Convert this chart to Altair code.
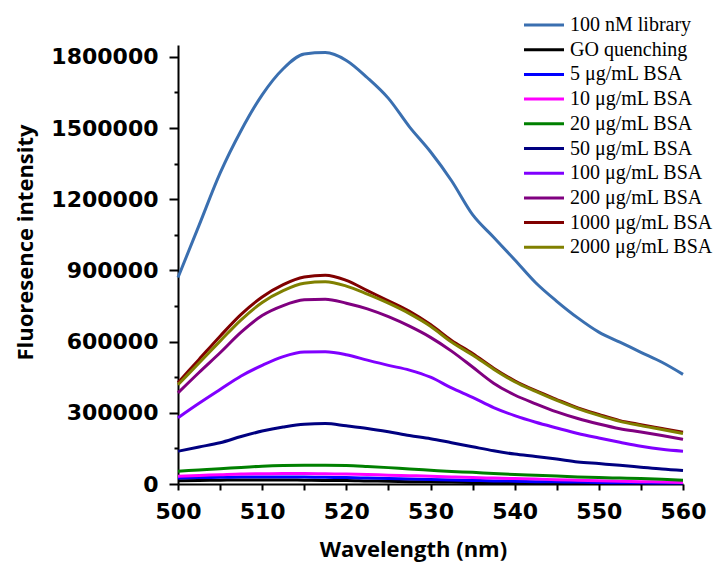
import altair as alt
import pandas as pd

# Wavelength grid (nm)
wavelength = [500, 502.5, 505, 507.5, 510, 512.5, 515, 517.5, 520, 522.5, 525, 527.5,
              530, 532.5, 535, 537.5, 540, 542.5, 545, 547.5, 550, 552.5, 555, 557.5, 560]

labels = ["100 nM library", "GO quenching", "5 μg/mL BSA", "10 μg/mL BSA", "20 μg/mL BSA",
          "50 μg/mL BSA", "100 μg/mL BSA", "200 μg/mL BSA", "1000 μg/mL BSA", "2000 μg/mL BSA"]
colors = ["#3a6fb0", "#000000", "#0000ff", "#ff00ff", "#008000",
          "#000080", "#8000ff", "#800080", "#800000", "#808000"]

library_100nM = [870000, 1090000, 1310000, 1490000, 1640000, 1750000, 1812000, 1818000, 1785000,
                 1712000, 1625000, 1505000, 1400000, 1278000, 1135000, 1040000, 945000, 848000,
                 770000, 700000, 640000, 598000, 555000, 513000, 462000]
go_quenching = [14000, 15000, 16000, 17000, 17000, 17000, 16000, 15000, 15000, 13000, 12000, 10000,
                9000, 8000, 6000, 5000, 4000, 3000, 3000, 2000, 2000, 2000, 2000, 2000, 2000]
bsa_5 = [25000, 27000, 28000, 29000, 30000, 30000, 29000, 28000, 27000, 25000, 23000, 21000,
         19000, 17000, 15000, 13000, 12000, 10000, 9000, 8000, 6000, 5000, 5000, 4000, 4000]
bsa_10 = [33000, 36000, 39000, 42000, 43000, 44000, 44000, 43000, 42000, 40000, 37000, 35000,
          33000, 30000, 27000, 25000, 23000, 21000, 18000, 16000, 14000, 12000, 10000, 8000, 6000]
bsa_20 = [54000, 59000, 64000, 70000, 75000, 78000, 79000, 79000, 78000, 74000, 69000, 63000,
          58000, 53000, 49000, 44000, 40000, 37000, 34000, 30000, 27000, 25000, 23000, 20000, 16000]
bsa_50 = [138000, 156000, 174000, 200000, 223000, 240000, 252000, 255000, 245000, 234000, 220000,
          204000, 191000, 174000, 157000, 140000, 126000, 116000, 105000, 93000, 86000, 79000,
          71000, 63000, 57000]
bsa_100 = [279000, 340000, 398000, 455000, 500000, 537000, 556000, 557000, 545000, 522000, 500000,
           480000, 450000, 405000, 365000, 322000, 288000, 260000, 236000, 213000, 194000, 176000,
           159000, 146000, 138000]
bsa_200 = [384000, 470000, 553000, 640000, 710000, 752000, 776000, 779000, 762000, 738000, 705000,
           665000, 618000, 560000, 493000, 425000, 375000, 338000, 304000, 276000, 253000, 233000,
           219000, 204000, 188000]
bsa_1000 = [427000, 525000, 623000, 715000, 788000, 840000, 872000, 880000, 858000, 815000, 772000,
            728000, 672000, 605000, 550000, 488000, 435000, 393000, 356000, 321000, 293000, 267000,
            250000, 234000, 218000]
bsa_2000 = [418000, 510000, 602000, 692000, 765000, 815000, 846000, 852000, 834000, 800000, 762000,
            718000, 665000, 598000, 544000, 484000, 431000, 390000, 352000, 318000, 289000, 264000,
            246000, 230000, 213000]

series = [library_100nM, go_quenching, bsa_5, bsa_10, bsa_20,
          bsa_50, bsa_100, bsa_200, bsa_1000, bsa_2000]

x_ticks = list(range(500, 561, 5))
y_ticks = list(range(0, 1800001, 150000))

rows = []
for lab, vals in zip(labels, series):
    for w, v in zip(wavelength, vals):
        rows.append({"Wavelength": w, "Intensity": v, "Sample": lab})
df = pd.DataFrame(rows)

x_axis = alt.Axis(
    values=x_ticks,
    labelExpr="datum.value % 10 == 0 ? datum.label : ''",
    grid=False,
    domainColor="black", domainWidth=2,
    tickColor="black", tickWidth=2, tickSize=6,
    labelFont="DejaVu Sans", labelFontWeight="bold", labelFontSize=22, labelColor="black",
    labelPadding=11, labelFlush=False, labelOverlap=False,
    title="Wavelength (nm)", titleFont="Open Sans", titleFontWeight="bold", titleFontSize=22,
    titleColor="black", titleX=235, titleY=72, titleAlign="center", titleBaseline="alphabetic",
)

y_axis = alt.Axis(
    values=y_ticks,
    format="d",
    labelExpr="datum.value % 300000 == 0 ? datum.label : ''",
    grid=False,
    domainColor="black", domainWidth=2,
    tickColor="black", tickWidth=2,
    tickSize={"condition": {"test": "datum.value % 300000 == 0", "value": 9}, "value": 4},
    labelFont="DejaVu Sans", labelFontWeight="bold", labelFontSize=22, labelColor="black",
    labelPadding=11, labelFlush=False, labelOverlap=False,
    title="Fluoresence intensity", titleFont="Open Sans", titleFontWeight="bold", titleFontSize=22,
    titleColor="black", titleAngle=270, titleX=-153, titleY=197, titleAlign="center",
    titleBaseline="middle",
)

legend = alt.Legend(
    title=None, orient="none", legendX=356, legendY=-30,
    symbolType="M-4,0L4,0", symbolSize=100, symbolStrokeWidth=3,
    labelFont="Liberation Serif", labelFontSize=20, labelColor="black",
    labelOffset=16, rowPadding=4.7, labelLimit=0,
)

chart = alt.Chart(df).mark_line(strokeWidth=3, interpolate="monotone").encode(
    x=alt.X("Wavelength:Q", scale=alt.Scale(domain=[500, 560], nice=False, zero=False), axis=x_axis),
    y=alt.Y("Intensity:Q", scale=alt.Scale(domain=[0, 1850000], nice=False), axis=y_axis),
    color=alt.Color("Sample:N", scale=alt.Scale(domain=labels, range=colors), sort=labels, legend=legend),
).properties(
    width=505, height=439,
    autosize=alt.AutoSizeParams(type="none"),
    padding={"left": 170, "top": 37, "right": 35, "bottom": 78},
).configure_view(stroke=None)

chart.save("out.html", embed_options={"renderer": "svg", "actions": False})
